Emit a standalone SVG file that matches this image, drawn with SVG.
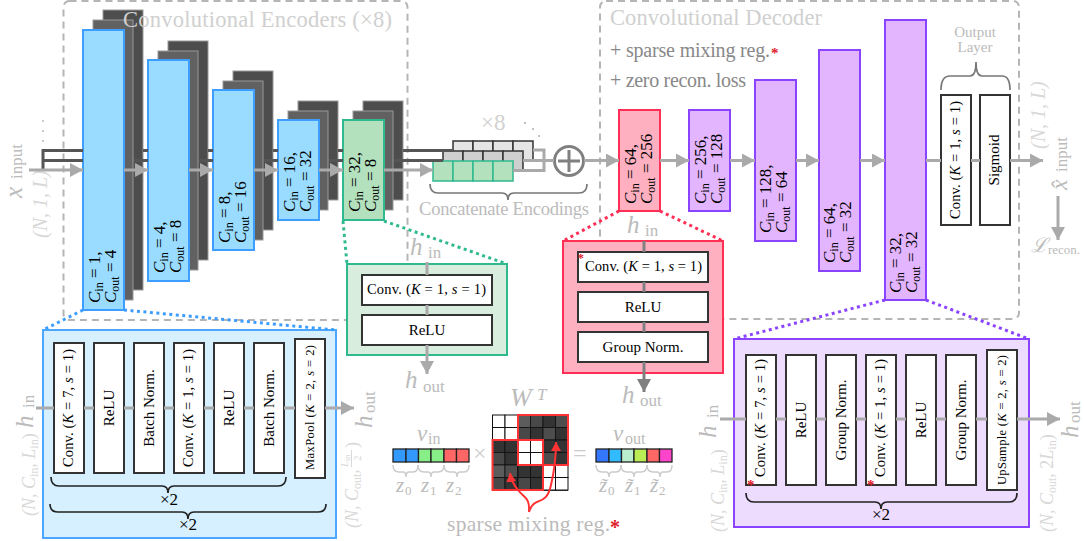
<svg xmlns="http://www.w3.org/2000/svg" width="1084" height="541" viewBox="0 0 1084 541">
<style>
text{font-family:"Liberation Serif","Times New Roman",serif;fill:#000}
.i{font-style:italic}
.sub{font-size:12px}
.b{font-size:17px}
.t{font-size:15px;text-anchor:middle}
.r{font-size:14.500px}
.m{font-size:12.500px}
.g1{fill:#d0d0d0}.g2{fill:#bbb}.g3{fill:#888}.g4{fill:#d8d8d8}
.h{font-size:25px;fill:#bbb}
.hs{font-size:17px;fill:#bbb}
.front{stroke-width:2}
.blue{fill:#99dcff;stroke:#3d9eff}
.green{fill:#b3e0bd;stroke:#2fb98f}
.red{fill:#ffb0c0;stroke:#ff2f55}
.purple{fill:#e3b5ff;stroke:#8a44ff}
.midl{fill:#616161;stroke:#999;stroke-width:1}
.back{fill:#4d4d4d;stroke:#999;stroke-width:1}
.box{fill:#fff;stroke:#333;stroke-width:2}
.dash{fill:none;stroke:#b5b5b5;stroke-width:2;stroke-dasharray:7 5}
.dark{fill:none;stroke:#555;stroke-width:3}
.flow{fill:none;stroke:#aaa;stroke-width:3}
.flowa{fill:none;stroke:#aaa;stroke-width:3;marker-end:url(#a)}
.flowd{fill:none;stroke:#808080;stroke-width:3}
.dot{fill:none;stroke-width:3;stroke-dasharray:3 3.5}
.brace{fill:none;stroke:#222;stroke-width:1.700}
.braceg{fill:none;stroke:#777;stroke-width:1.700}
.bracel{fill:none;stroke:#ccc;stroke-width:1.500}
.cell{stroke:#222;stroke-width:1.300}
.wc{fill:#fff;stroke:#111;stroke-width:1}
.star{fill:#e0202c;font-weight:bold;font-size:15px}
</style>
<defs>
<marker id="a" markerUnits="userSpaceOnUse" markerWidth="14" markerHeight="14" refX="13" refY="7" orient="auto"><path d="M0 0L13 7L0 14Z" fill="#aaa"/></marker>
<marker id="ad" markerUnits="userSpaceOnUse" markerWidth="14" markerHeight="14" refX="13" refY="7" orient="auto"><path d="M0 0L13 7L0 14Z" fill="#808080"/></marker>
<marker id="ar" markerUnits="userSpaceOnUse" markerWidth="10" markerHeight="10" refX="9" refY="5" orient="auto"><path d="M0 0L9 5L0 10Z" fill="#f33"/></marker>
</defs>

<g id="frames">
<rect class="dash" x="63.500" y="1" width="344" height="319" rx="6"/>
<rect class="dash" x="600" y="1" width="419" height="318" rx="6"/>
</g>

<g id="enc1"><rect class="back" x="103" y="10" width="40" height="280"/><rect class="midl" x="93" y="20" width="40" height="280"/><rect class="blue front" x="83" y="30" width="41" height="280"/>
<text class="b" transform="translate(100,303) rotate(-90)"><tspan class="i">C</tspan><tspan class="sub" dy="3">in</tspan><tspan dy="-3"> = 1,</tspan></text><text class="b" transform="translate(116,303) rotate(-90)"><tspan class="i">C</tspan><tspan class="sub" dy="3">out</tspan><tspan dy="-3"> = 4</tspan></text></g>
<g id="enc2"><rect class="back" x="168" y="41" width="40" height="219"/><rect class="midl" x="158" y="51" width="40" height="219"/><rect class="blue front" x="148" y="60" width="41" height="221"/>
<text class="b" transform="translate(165,273) rotate(-90)"><tspan class="i">C</tspan><tspan class="sub" dy="3">in</tspan><tspan dy="-3"> = 4,</tspan></text><text class="b" transform="translate(181,273) rotate(-90)"><tspan class="i">C</tspan><tspan class="sub" dy="3">out</tspan><tspan dy="-3"> = 8</tspan></text></g>
<g id="enc3"><rect class="back" x="233" y="71" width="40" height="159"/><rect class="midl" x="223" y="81" width="40" height="159"/><rect class="blue front" x="213" y="90" width="41" height="160"/>
<text class="b" transform="translate(230,243) rotate(-90)"><tspan class="i">C</tspan><tspan class="sub" dy="3">in</tspan><tspan dy="-3"> = 8,</tspan></text><text class="b" transform="translate(246,243) rotate(-90)"><tspan class="i">C</tspan><tspan class="sub" dy="3">out</tspan><tspan dy="-3"> = 16</tspan></text></g>
<g id="enc4"><rect class="back" x="298" y="101" width="40" height="99"/><rect class="midl" x="288" y="111" width="40" height="99"/><rect class="blue front" x="278" y="120" width="41" height="100"/>
<text class="b" transform="translate(295,212) rotate(-90)"><tspan class="i">C</tspan><tspan class="sub" dy="3">in</tspan><tspan dy="-3"> = 16,</tspan></text><text class="b" transform="translate(311,212) rotate(-90)"><tspan class="i">C</tspan><tspan class="sub" dy="3">out</tspan><tspan dy="-3"> = 32</tspan></text></g>
<g id="enc5"><rect class="back" x="363" y="101" width="40" height="99"/><rect class="midl" x="353" y="111" width="40" height="99"/><rect class="green front" x="343" y="120" width="41" height="100"/>
<text class="b" transform="translate(360,212) rotate(-90)"><tspan class="i">C</tspan><tspan class="sub" dy="3">in</tspan><tspan dy="-3"> = 32,</tspan></text><text class="b" transform="translate(376,212) rotate(-90)"><tspan class="i">C</tspan><tspan class="sub" dy="3">out</tspan><tspan dy="-3"> = 8</tspan></text></g>

<g id="titles">
<text class="g1" x="123" y="27" font-size="22.500" textLength="269">Convolutional Encoders (×8)</text>
<text class="g1" x="610" y="25" font-size="22.500" textLength="212">Convolutional Decoder</text>
<text class="g3" x="610" y="57" font-size="20" textLength="160">+ sparse mixing reg.</text><text class="star" x="771" y="58">*</text>
<text class="g3" x="610" y="87" font-size="20" textLength="136">+ zero recon. loss</text>
</g>

<g id="concat">
<g fill="#e5e5e5" stroke="#333" stroke-width="1.500"><rect x="453" y="141" width="20" height="20"/><rect x="473" y="141" width="20" height="20"/><rect x="493" y="141" width="20" height="20"/><rect x="513" y="141" width="20" height="20"/></g>
<g fill="#cfcfcf" stroke="#333" stroke-width="1.500"><rect x="443" y="151" width="20" height="20"/><rect x="463" y="151" width="20" height="20"/><rect x="483" y="151" width="20" height="20"/><rect x="503" y="151" width="20" height="20"/></g>
<g fill="#b3e0bd" stroke="#2fb98f" stroke-width="1.500"><rect x="433" y="161" width="20" height="20"/><rect x="453" y="161" width="20" height="20"/><rect x="473" y="161" width="20" height="20"/><rect x="493" y="161" width="20" height="20"/></g>
<text class="g1" x="481" y="130" font-size="23">×8</text>
<circle cx="525" cy="123" r="1" fill="#aaa"/><circle cx="533" cy="129" r="1" fill="#aaa"/><circle cx="539" cy="136" r="1" fill="#aaa"/>
<path class="braceg" d="M430 184Q430 193 438 193H502Q508 193 508 200Q508 193 514 193H579Q587 193 587 184"/>
<text class="g2" x="419" y="215" font-size="18.500" textLength="170">Concatenate Encodings</text>
</g>
<g id="plus"><circle cx="569" cy="161" r="14.500" fill="#fff" stroke="#808080" stroke-width="3"/><path d="M569 150V172M558 161H580" stroke="#808080" stroke-width="3" fill="none"/></g>

<g id="dec1"><rect class="red front" x="619" y="110" width="41" height="101"/>
<text class="b" transform="translate(636,204) rotate(-90)"><tspan class="i">C</tspan><tspan class="sub" dy="3">in</tspan><tspan dy="-3"> = 64,</tspan></text><text class="b" transform="translate(652,204) rotate(-90)"><tspan class="i">C</tspan><tspan class="sub" dy="3">out</tspan><tspan dy="-3"> = 256</tspan></text></g>
<g id="dec2"><rect class="purple front" x="689" y="110" width="41" height="101"/>
<text class="b" transform="translate(706,204) rotate(-90)"><tspan class="i">C</tspan><tspan class="sub" dy="3">in</tspan><tspan dy="-3"> = 256,</tspan></text><text class="b" transform="translate(722,204) rotate(-90)"><tspan class="i">C</tspan><tspan class="sub" dy="3">out</tspan><tspan dy="-3"> = 128</tspan></text></g>
<g id="dec3"><rect class="purple front" x="755" y="80" width="41" height="161"/>
<text class="b" transform="translate(771,233) rotate(-90)"><tspan class="i">C</tspan><tspan class="sub" dy="3">in</tspan><tspan dy="-3"> = 128,</tspan></text><text class="b" transform="translate(787,233) rotate(-90)"><tspan class="i">C</tspan><tspan class="sub" dy="3">out</tspan><tspan dy="-3"> = 64</tspan></text></g>
<g id="dec4"><rect class="purple front" x="819" y="50" width="41" height="221"/>
<text class="b" transform="translate(835,263) rotate(-90)"><tspan class="i">C</tspan><tspan class="sub" dy="3">in</tspan><tspan dy="-3"> = 64,</tspan></text><text class="b" transform="translate(851,263) rotate(-90)"><tspan class="i">C</tspan><tspan class="sub" dy="3">out</tspan><tspan dy="-3"> = 32</tspan></text></g>
<g id="dec5"><rect class="purple front" x="885" y="20" width="41" height="280"/>
<text class="b" transform="translate(901,293) rotate(-90)"><tspan class="i">C</tspan><tspan class="sub" dy="3">in</tspan><tspan dy="-3"> = 32,</tspan></text><text class="b" transform="translate(917,293) rotate(-90)"><tspan class="i">C</tspan><tspan class="sub" dy="3">out</tspan><tspan dy="-3"> = 32</tspan></text></g>

<g id="output">
<rect class="box" x="941" y="95" width="30" height="130"/><rect class="box" x="980" y="95" width="30" height="130"/>
<text class="r" transform="translate(960,219) rotate(-90)" textLength="118">Conv. (<tspan class="i">K</tspan> = 1, <tspan class="i">s</tspan> = 1)</text>
<text class="t" transform="translate(999,160) rotate(-90)">Sigmoid</text>
<path class="braceg" d="M941 90Q941 76 950 76H970Q976 76 976 62Q976 76 982 76H1002Q1010 76 1010 90"/>
<text class="g2" x="975" y="37" font-size="15" text-anchor="middle">Output</text><text class="g2" x="975" y="52" font-size="15" text-anchor="middle">Layer</text>
</g>

<g id="io">
<g transform="translate(22,198) rotate(-90)"><text class="h i" x="0" y="0">x</text><text class="hs" x="19" y="0" font-size="17">input</text></g>
<text class="g4 i" transform="translate(47,238) rotate(-90)" font-size="20">(N, 1, L)</text>
<circle cx="43" cy="121" r="1" fill="#bbb"/><circle cx="43" cy="131" r="1" fill="#bbb"/><circle cx="43" cy="141" r="1" fill="#bbb"/>
<text class="g4 i" transform="translate(1045,149) rotate(-90)" font-size="20">(N, 1, L)</text>
<g transform="translate(1067,190) rotate(-90)"><text class="h i" x="0" y="0" style="font-size:24px">x̂</text><text class="hs" x="18" y="0">input</text></g>
<text class="i g2" x="1031" y="252" font-size="20">ℒ</text><text class="g2" x="1048" y="254" font-size="13">recon.</text>
</g>

<g id="panel-green">
<rect x="347" y="264" width="160" height="91" fill="#d9eddf" stroke="#2fb98f" stroke-width="2"/>
<rect class="box" x="362" y="275" width="130" height="30"/><rect class="box" x="362" y="315" width="130" height="30"/>
<text class="r" x="367" y="294" textLength="119">Conv. (<tspan class="i">K</tspan> = 1, <tspan class="i">s</tspan> = 1)</text><text class="t" x="427" y="335">ReLU</text>
<text class="h i" x="410" y="255">h</text><text class="hs" x="428" y="258">in</text>
<text class="h i" x="405" y="388">h</text><text class="hs" x="423" y="392">out</text>
</g>
<g id="panel-red">
<rect x="563" y="241" width="160" height="132" fill="#ffb0c0" stroke="#ff2f55" stroke-width="2"/>
<rect class="box" x="578" y="252" width="130" height="30"/><rect class="box" x="578" y="292" width="130" height="30"/><rect class="box" x="578" y="332" width="130" height="30"/>
<text class="r" x="585" y="271" textLength="117">Conv. (<tspan class="i">K</tspan> = 1, <tspan class="i">s</tspan> = 1)</text><text class="t" x="643" y="312">ReLU</text><text class="t" x="643" y="352">Group Norm.</text>
<text class="star" x="577.500" y="262" style="font-size:13px">*</text>
<text class="h i" x="627" y="233">h</text><text class="hs" x="645" y="236">in</text>
<text class="h i" x="622" y="403">h</text><text class="hs" x="640" y="406">out</text>
</g>
<g id="panel-blue">
<rect x="43" y="330" width="293" height="208" fill="#d6f0ff" stroke="#4da6ff" stroke-width="2"/>
<rect class="box" x="54" y="343" width="30" height="130"/><rect class="box" x="94" y="343" width="30" height="130"/><rect class="box" x="134" y="343" width="30" height="130"/><rect class="box" x="174" y="343" width="30" height="130"/><rect class="box" x="214" y="343" width="30" height="130"/><rect class="box" x="254" y="343" width="30" height="130"/><rect class="box" x="295" y="339" width="30" height="139"/>
<text class="r" transform="translate(73,467) rotate(-90)" textLength="118">Conv. (<tspan class="i">K</tspan> = 7, <tspan class="i">s</tspan> = 1)</text>
<text class="t" transform="translate(114,408) rotate(-90)">ReLU</text><text class="t" transform="translate(154,408) rotate(-90)">Batch Norm.</text>
<text class="r" transform="translate(193,467) rotate(-90)" textLength="118">Conv. (<tspan class="i">K</tspan> = 1, <tspan class="i">s</tspan> = 1)</text>
<text class="t" transform="translate(234,408) rotate(-90)">ReLU</text><text class="t" transform="translate(274,408) rotate(-90)">Batch Norm.</text>
<text class="m" transform="translate(314,470) rotate(-90)" textLength="125">MaxPool (<tspan class="i">K</tspan> = 2, <tspan class="i">s</tspan> = 2)</text>
<path class="brace" d="M51 477Q51 486 59 486H162Q168 486 168 493Q168 486 174 486H278Q286 486 286 477"/>
<text x="160" y="505" font-size="17">×2</text>
<path class="brace" d="M50 504Q50 512 58 512H182Q188 512 188 519Q188 512 194 512H318Q326 512 326 504"/>
<text x="179" y="530" font-size="17">×2</text>
<text class="h i" transform="translate(33,428) rotate(-90)">h</text><text class="hs" transform="translate(34,408) rotate(-90)">in</text>
<text class="g4 i" transform="translate(35,516) rotate(-90)" font-size="18">(N, C<tspan class="sub" font-style="normal" dy="3">in</tspan><tspan dy="-3">, L</tspan><tspan class="sub" font-style="normal" dy="3">in</tspan><tspan dy="-3" font-style="normal">)</tspan></text>
<text class="h i" transform="translate(372,428) rotate(-90)">h</text><text class="hs" transform="translate(375,413) rotate(-90)">out</text>
<text class="g4 i" transform="translate(358,528) rotate(-90)" font-size="18">(N, C<tspan class="sub" font-style="normal" dy="3">out</tspan><tspan dy="-3">,</tspan></text>
<text class="g4 i" transform="translate(348,467) rotate(-90)" font-size="11">L<tspan font-size="8" font-style="normal" dy="2">in</tspan></text>
<text class="g4" transform="translate(361,461) rotate(-90)" font-size="11">2</text>
<path d="M351.500 467V450" stroke="#d8d8d8" stroke-width="1"/>
<text class="g4" transform="translate(358,448) rotate(-90)" font-size="18">)</text>
</g>
<g id="panel-purple">
<rect x="734" y="339" width="295" height="188" fill="#eedcff" stroke="#8a44ff" stroke-width="2"/>
<rect class="box" x="746" y="355" width="30" height="130"/><rect class="box" x="786" y="355" width="30" height="130"/><rect class="box" x="826" y="355" width="30" height="130"/><rect class="box" x="866" y="355" width="30" height="130"/><rect class="box" x="906" y="355" width="30" height="130"/><rect class="box" x="946" y="355" width="30" height="130"/><rect class="box" x="987" y="350" width="30" height="140"/>
<text class="r" transform="translate(765,477) rotate(-90)" textLength="118">Conv. (<tspan class="i">K</tspan> = 7, <tspan class="i">s</tspan> = 1)</text>
<text class="t" transform="translate(806,420) rotate(-90)">ReLU</text><text class="t" transform="translate(846,420) rotate(-90)">Group Norm.</text>
<text class="r" transform="translate(885,477) rotate(-90)" textLength="118">Conv. (<tspan class="i">K</tspan> = 1, <tspan class="i">s</tspan> = 1)</text>
<text class="t" transform="translate(926,420) rotate(-90)">ReLU</text><text class="t" transform="translate(966,420) rotate(-90)">Group Norm.</text>
<text class="m" transform="translate(1006,485) rotate(-90)" textLength="130">UpSample (<tspan class="i">K</tspan> = 2, <tspan class="i">s</tspan> = 2)</text>
<text class="star" x="747" y="490">*</text><text class="star" x="867" y="490">*</text>
<path class="brace" d="M746 493Q746 502 754 502H875Q881 502 881 509Q881 502 887 502H1009Q1017 502 1017 493"/>
<text x="872" y="520" font-size="17">×2</text>
<text class="h i" transform="translate(716,438) rotate(-90)">h</text><text class="hs" transform="translate(718,418) rotate(-90)">in</text>
<text class="g4 i" transform="translate(724,532) rotate(-90)" font-size="18">(N, C<tspan class="sub" font-style="normal" dy="3">in</tspan><tspan dy="-3">, L</tspan><tspan class="sub" font-style="normal" dy="3">in</tspan><tspan dy="-3" font-style="normal">)</tspan></text>
<text class="h i" transform="translate(1078,438) rotate(-90)">h</text><text class="hs" transform="translate(1080,423) rotate(-90)">out</text>
<text class="g4 i" transform="translate(1053,532) rotate(-90)" font-size="18">(N, C<tspan class="sub" font-style="normal" dy="3">out</tspan><tspan dy="-3" font-style="normal">, 2</tspan><tspan>L</tspan><tspan class="sub" font-style="normal" dy="3">in</tspan><tspan dy="-3" font-style="normal">)</tspan></text>
</g>

<g id="matrix-eq">
<g class="cell"><rect x="393" y="449" width="13" height="13" fill="#3399ff"/><rect x="406" y="449" width="12.500" height="13" fill="#3399ff"/><rect x="418.500" y="449" width="12.500" height="13" fill="#88ee88"/><rect x="431" y="449" width="13" height="13" fill="#88ee88"/><rect x="444" y="449" width="12.500" height="13" fill="#ff6666"/><rect x="456.500" y="449" width="12.500" height="13" fill="#ff6666"/></g>
<g class="cell"><rect x="596" y="449" width="13" height="13" fill="#3377ff"/><rect x="609" y="449" width="12.500" height="13" fill="#33bbff"/><rect x="621.500" y="449" width="12.500" height="13" fill="#bbeecc"/><rect x="634" y="449" width="13" height="13" fill="#bbee55"/><rect x="647" y="449" width="12.500" height="13" fill="#ff6666"/><rect x="659.500" y="449" width="12.500" height="13" fill="#ff44cc"/></g>
<text class="i g2" x="417" y="441" font-size="23">v</text><text class="g2" x="428" y="444" font-size="16">in</text>
<text class="i g2" x="613" y="441" font-size="23">v</text><text class="g2" x="625" y="444" font-size="16">out</text>
<text class="i g2" x="510" y="406" font-size="26">W</text><text class="i g2" x="537" y="400" font-size="17">T</text>
<text x="473" y="461" font-size="24" style="fill:#ccc">×</text><text x="573" y="461" font-size="24" style="fill:#ccc">=</text>
<g class="bracel">
<path d="M393 465Q393 472 399 472H403Q406 472 406 477Q406 472 409 472H413Q418 472 418 465"/><path d="M418 465Q418 472 424 472H428Q431 472 431 477Q431 472 434 472H438Q444 472 444 465"/><path d="M444 465Q444 472 450 472H454Q457 472 457 477Q457 472 460 472H464Q469 472 469 465"/>
<path d="M596 465Q596 472 602 472H606Q609 472 609 477Q609 472 612 472H616Q621 472 621 465"/><path d="M621 465Q621 472 627 472H631Q634 472 634 477Q634 472 637 472H641Q647 472 647 465"/><path d="M647 465Q647 472 653 472H657Q660 472 660 477Q660 472 663 472H667Q672 472 672 465"/>
</g>
<text class="i g2" x="396" y="492" font-size="21">z</text><text class="g2" x="405" y="495" font-size="13">0</text>
<text class="i g2" x="421" y="492" font-size="21">z</text><text class="g2" x="430" y="495" font-size="13">1</text>
<text class="i g2" x="446" y="492" font-size="21">z</text><text class="g2" x="455" y="495" font-size="13">2</text>
<text class="i g2" x="599" y="492" font-size="21">z̃</text><text class="g2" x="608" y="495" font-size="13">0</text>
<text class="i g2" x="625" y="492" font-size="21">z̃</text><text class="g2" x="634" y="495" font-size="13">1</text>
<text class="i g2" x="650" y="492" font-size="21">z̃</text><text class="g2" x="659" y="495" font-size="13">2</text>
<g>
<rect x="492" y="415" width="76" height="76" fill="#3d3d3d"/>
<g class="wc"><rect x="492.500" y="415" width="12.500" height="12.500"/><rect x="505" y="415" width="12.500" height="12.500"/><rect x="492.500" y="427.500" width="12.500" height="12.500"/><rect x="505" y="427.500" width="12.500" height="12.500"/>
<rect x="518" y="440" width="12.500" height="12.500"/><rect x="530.500" y="440" width="12.500" height="12.500"/><rect x="518" y="452.500" width="12.500" height="12.500"/><rect x="530.500" y="452.500" width="12.500" height="12.500"/>
<rect x="543" y="465" width="12.500" height="12.500"/><rect x="555.500" y="465" width="12.500" height="12.500"/><rect x="543" y="477.500" width="12.500" height="12.500"/><rect x="555.500" y="477.500" width="12.500" height="12.500"/></g>
<g stroke="#111" stroke-width=".8" fill="none">
<rect x="518" y="415" width="12.500" height="12.500" fill="#5c5c5c"/><rect x="530.500" y="415" width="12.500" height="12.500" fill="#484848"/><rect x="543" y="415" width="12.500" height="12.500" fill="#333"/><rect x="555.500" y="415" width="12.500" height="12.500" fill="#4d4d4d"/>
<rect x="518" y="427.500" width="12.500" height="12.500" fill="#484848"/><rect x="530.500" y="427.500" width="12.500" height="12.500" fill="#333"/><rect x="543" y="427.500" width="12.500" height="12.500" fill="#4d4d4d"/><rect x="555.500" y="427.500" width="12.500" height="12.500" fill="#333"/>
<rect x="543" y="440" width="12.500" height="12.500" fill="#333"/><rect x="555.500" y="440" width="12.500" height="12.500" fill="#333"/><rect x="543" y="452.500" width="12.500" height="12.500" fill="#4d4d4d"/><rect x="555.500" y="452.500" width="12.500" height="12.500" fill="#333"/>
<rect x="492.500" y="440" width="12.500" height="12.500" fill="#333"/><rect x="505" y="440" width="12.500" height="12.500" fill="#333"/><rect x="492.500" y="452.500" width="12.500" height="12.500" fill="#484848"/><rect x="505" y="452.500" width="12.500" height="12.500" fill="#333"/>
<rect x="492.500" y="465" width="12.500" height="12.500" fill="#5c5c5c"/><rect x="505" y="465" width="12.500" height="12.500" fill="#4d4d4d"/><rect x="518" y="465" width="12.500" height="12.500" fill="#333"/><rect x="530.500" y="465" width="12.500" height="12.500" fill="#333"/>
<rect x="492.500" y="477.500" width="12.500" height="12.500" fill="#484848"/><rect x="505" y="477.500" width="12.500" height="12.500" fill="#333"/><rect x="518" y="477.500" width="12.500" height="12.500" fill="#484848"/><rect x="530.500" y="477.500" width="12.500" height="12.500" fill="#333"/>
</g>
<rect x="518" y="415" width="50" height="50" fill="none" stroke="#f33" stroke-width="2"/>
<rect x="492.500" y="440" width="50.500" height="50" fill="none" stroke="#f33" stroke-width="2"/>
</g>
<text class="g2" x="447" y="531" font-size="21.500" textLength="163">sparse mixing reg.</text><text class="star" x="610" y="534" style="font-size:20px">*</text>
</g>

<g id="connectors">
<path class="dark" d="M43 170V150.500H83M43 160.500H83M143 150.500H148M208 150.500H213M273 150.500H278M338 150.500H343M403 150.500H453M134 160.500H148M199 160.500H213M264 160.500H278M329 160.500H343M394 160.500H443"/>
<path class="flowa" d="M29 170H83"/><path class="flowa" d="M124 170H148"/><path class="flowa" d="M189 170H213"/><path class="flowa" d="M254 170H278"/><path class="flowa" d="M319 170H343"/><path class="flowa" d="M384 170H433"/>
<path class="flow" d="M533 150H544V170.500H513M523 160.500H554"/>
<path class="flowa" d="M584 160.500H619"/><path class="flowa" d="M660 160.500H689"/><path class="flowa" d="M730 160.500H755"/><path class="flowa" d="M796 160.500H819"/><path class="flowa" d="M860 160.500H885"/>
<path class="flow" d="M926 160.500H941M971 160.500H980"/><path class="flowa" d="M1010 160.500H1043"/><path class="flowa" d="M1058 196V240"/>
<path class="flow" d="M427 262V275M427 305V315"/><path class="flowa" d="M427 345V374"/>
<path class="flowd" d="M644 241V252M644 282V292M644 322V332"/><path class="flowd" style="marker-end:url(#ad)" d="M644 362V392"/>
<path class="flow" d="M36 408H54M84 408H94M124 408H134M164 408H174M204 408H214M244 408H254M284 408H295"/><path class="flowa" d="M325 408H354"/>
<path class="flow" d="M720 419H746M776 419H786M816 419H826M856 419H866M896 419H906M936 419H946M976 419H987"/><path class="flowa" d="M1017 419H1060"/>
<path class="dot" stroke="#3d9eff" d="M83 310L43 330M124 310L336 330"/>
<path class="dot" stroke="#2fb98f" d="M343 221L347 264M384 221L507 264"/>
<path class="dot" stroke="#ff2f55" d="M619 211L563 241M660 211L723 241"/>
<path class="dot" stroke="#8a44ff" d="M885 300L734 339M926 300L1029 339"/>
<path d="M529 512C530 497 524 498 518 490C513 484 511 480 510 473" fill="none" stroke="#f33" stroke-width="2" marker-end="url(#ar)"/>
<path d="M529 512C534 495 546 508 551 485C555 468 556 455 556 442" fill="none" stroke="#f33" stroke-width="2" marker-end="url(#ar)"/>
</g>
</svg>
